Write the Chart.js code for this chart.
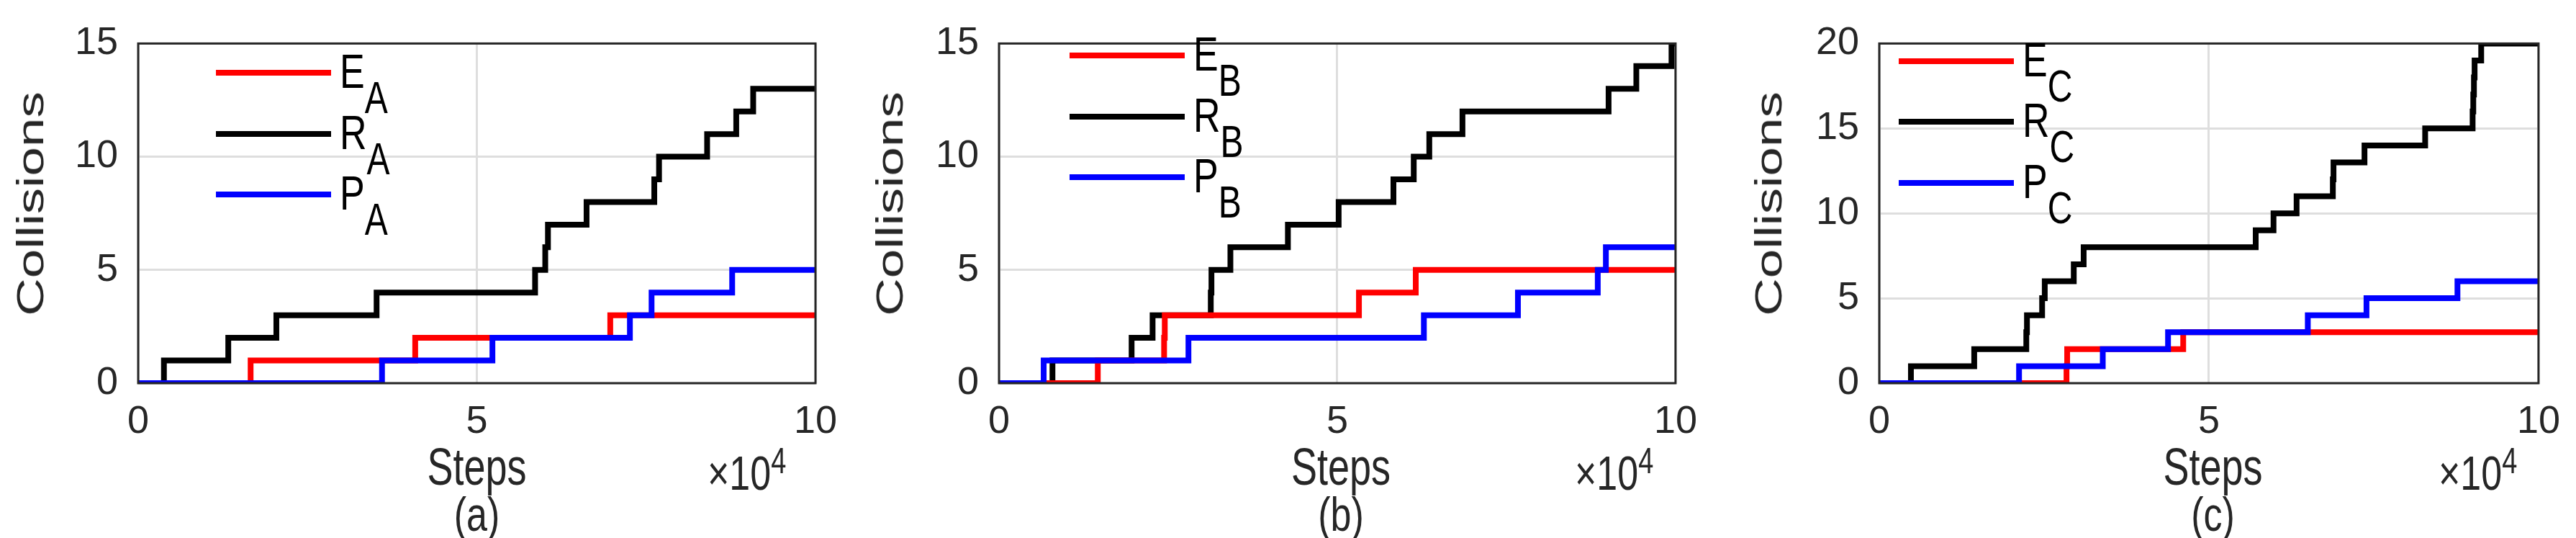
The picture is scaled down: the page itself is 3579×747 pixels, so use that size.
<!DOCTYPE html>
<html>
<head>
<meta charset="utf-8">
<script src="https://cdn.jsdelivr.net/npm/chart.js@4/dist/chart.umd.min.js"></script>
<style>
  body { margin: 0; background: #fff; width: 3579px; height: 747px; overflow: hidden; position: relative;
         font-family: "Liberation Sans Narrow", "Liberation Sans", Arial, sans-serif; color: #262626; }
  .panel { position: absolute; top: 0; height: 747px; }
  .txt { position: absolute; font-size: 48px; white-space: nowrap; }
  .ylab { position: absolute; font-size: 52px; transform: translate(-50%, -50%) rotate(-90deg) scaleX(1.4); top: 283px; }
  .leg { position: absolute; height: 8px; }
  .legt { position: absolute; font-size: 52px; line-height: 1; color: #000; transform: scaleY(1.3); transform-origin: top left; }
  .legt sub { font-size: 48px; vertical-align: -0.55em; }
</style>
</head>
<body>
<script>
// x values are steps in units of 1e4; each entry is where the count jumps to the matching y value
var xMax = 10;

var xEA = [0, 1.66, 4.09, 6.97];
var yEA = [0, 1, 2, 3];
var xRA = [0, 0.38, 1.33, 2.04, 3.52, 5.86, 6.01, 6.05, 6.62, 7.62, 7.69, 8.40, 8.83, 9.08];
var yRA = [0, 1, 2, 3, 4, 5, 6, 7, 8, 9, 10, 11, 12, 13];
var xPA = [0, 3.60, 5.23, 7.26, 7.58, 8.77];
var yPA = [0, 1, 2, 3, 4, 5];

var xEB = [0, 1.46, 2.44, 2.45, 5.32, 6.16];
var yEB = [0, 1, 2, 3, 4, 5];
var xRB = [0, 0.79, 1.96, 2.27, 3.13, 3.14, 3.42, 4.27, 5.02, 5.83, 6.13, 6.36, 6.85, 9.01, 9.42, 9.94];
var yRB = [0, 1, 2, 3, 4, 5, 6, 7, 8, 9, 10, 11, 12, 13, 14, 15];
var xPB = [0, 0.66, 2.80, 6.28, 7.67, 8.85, 8.97];
var yPB = [0, 1, 2, 3, 4, 5, 6];

var xEC = [0, 2.84, 2.85, 4.61];
var yEC = [0, 1, 2, 3];
var xRC = [0, 0.48, 1.44, 2.23, 2.24, 2.47, 2.51, 2.95, 3.10, 5.71, 5.98, 6.33, 6.88, 6.89, 7.36, 8.28, 9.00, 9.01, 9.02, 9.03, 9.13];
var yRC = [0, 1, 2, 3, 4, 5, 6, 7, 8, 9, 10, 11, 12, 13, 14, 15, 16, 17, 18, 19, 20];
var xPC = [0, 2.12, 3.39, 4.38, 6.50, 7.39, 8.77];
var yPC = [0, 1, 2, 3, 4, 5, 6];

var xTicks = [0, 5, 10];

var panels = [
  { id: "a", left: 0, width: 1190, plotL: 192, plotR: 1133, yMax: 15, letter: "A",
    series: [[xEA, yEA], [xRA, yRA], [xPA, yPA]], legX: 300, legY: [101, 186, 270], ylabX: 42 },
  { id: "b", left: 1190, width: 1190, plotL: 1388, plotR: 2338, yMax: 15, letter: "B",
    series: [[xEB, yEB], [xRB, yRB], [xPB, yPB]], legX: 1486, legY: [77, 162, 246], ylabX: 1236 },
  { id: "c", left: 2380, width: 1199, plotL: 2611, plotR: 3538, yMax: 20, letter: "C",
    series: [[xEC, yEC], [xRC, yRC], [xPC, yPC]], legX: 2638, legY: [85, 169, 254], ylabX: 2457 }
];
var colors = ["#ff0000", "#000000", "#0000ff"];
var names = ["E", "R", "P"];
var plotTop = 33, plotBottom = 532;

function toPoints(xs, ys) {
  var pts = xs.map(function (x, i) { return { x: x, y: ys[i] }; });
  pts.push({ x: xMax, y: ys[ys.length - 1] });
  return pts;
}

// draws the dark box around the plot area
var framePlugin = {
  id: "frame",
  afterDraw: function (chart) {
    var a = chart.chartArea, ctx = chart.ctx;
    ctx.save();
    ctx.strokeStyle = "#262626";
    ctx.lineWidth = 3;
    ctx.strokeRect(a.left, a.top, a.right - a.left, a.bottom - a.top);
    ctx.restore();
  }
};

panels.forEach(function (p) {
  var div = document.createElement("div");
  div.className = "panel";
  div.style.left = p.left + "px";
  div.style.width = p.width + "px";
  var canvas = document.createElement("canvas");
  canvas.width = p.width;
  canvas.height = 747;
  div.appendChild(canvas);
  document.body.appendChild(div);

  var tickFont = { family: '"Liberation Sans Narrow", "Liberation Sans", Arial', size: 54 };
  new Chart(canvas, {
    type: "line",
    data: {
      datasets: p.series.map(function (s, i) {
        return {
          data: toPoints(s[0], s[1]),
          borderColor: colors[i],
          borderWidth: 8,
          stepped: "before",
          pointRadius: 0,
          fill: false,
          order: i == 2 ? 0 : (i == 0 ? 1 : 2)
        };
      })
    },
    options: {
      responsive: false,
      animation: false,
      devicePixelRatio: 1,
      layout: { padding: { left: 0, right: p.left + p.width - p.plotR, top: plotTop, bottom: 0 } },
      plugins: { legend: { display: false }, tooltip: { enabled: false } },
      scales: {
        x: {
          type: "linear", min: 0, max: xMax,
          afterBuildTicks: function (s) { s.ticks = xTicks.map(function (v) { return { value: v }; }); },
          afterFit: function (s) { s.height = 747 - plotBottom; },
          ticks: { font: tickFont, color: "#262626", padding: 22, maxRotation: 0 },
          grid: { color: "#dedede", lineWidth: 3, drawTicks: false },
          border: { display: false }
        },
        y: {
          min: 0, max: p.yMax,
          ticks: { stepSize: 5, font: tickFont, color: "#262626", padding: 28 },
          afterFit: function (s) { s.width = p.plotL - p.left; },
          grid: { color: "#dedede", lineWidth: 3, drawTicks: false },
          border: { display: false }
        }
      }
    },
    plugins: [framePlugin]
  });

  function addText(cls, html, x, y, extra) {
    var t = document.createElement("div");
    t.className = cls;
    t.innerHTML = html;
    t.style.left = x + "px";
    t.style.top = y + "px";
    if (extra) t.style.cssText += extra;
    document.body.appendChild(t);
    return t;
  }
  var mid = (p.plotL + p.plotR) / 2;
  addText("txt", "Steps", mid, 616, "transform:translateX(-50%) scaleY(1.35);font-size:54px;");
  addText("txt", "(" + p.id + ")", mid, 684, "transform:translateX(-50%) scaleY(1.3);font-size:52px;");
  addText("txt", "&times;10<sup style='font-size:38px'>4</sup>", p.plotR - 150, 622, "font-size:52px;transform:scaleY(1.3);");
  addText("ylab", "Collisions", p.ylabX, 283);

  names.forEach(function (n, i) {
    var l = addText("leg", "", p.legX, p.legY[i] - 4);
    l.style.width = "160px";
    l.style.background = colors[i];
    addText("legt", n + "<sub>" + p.letter + "</sub>", p.legX + 172, p.legY[i] - 36);
  });
});
</script>
</body>
</html>
